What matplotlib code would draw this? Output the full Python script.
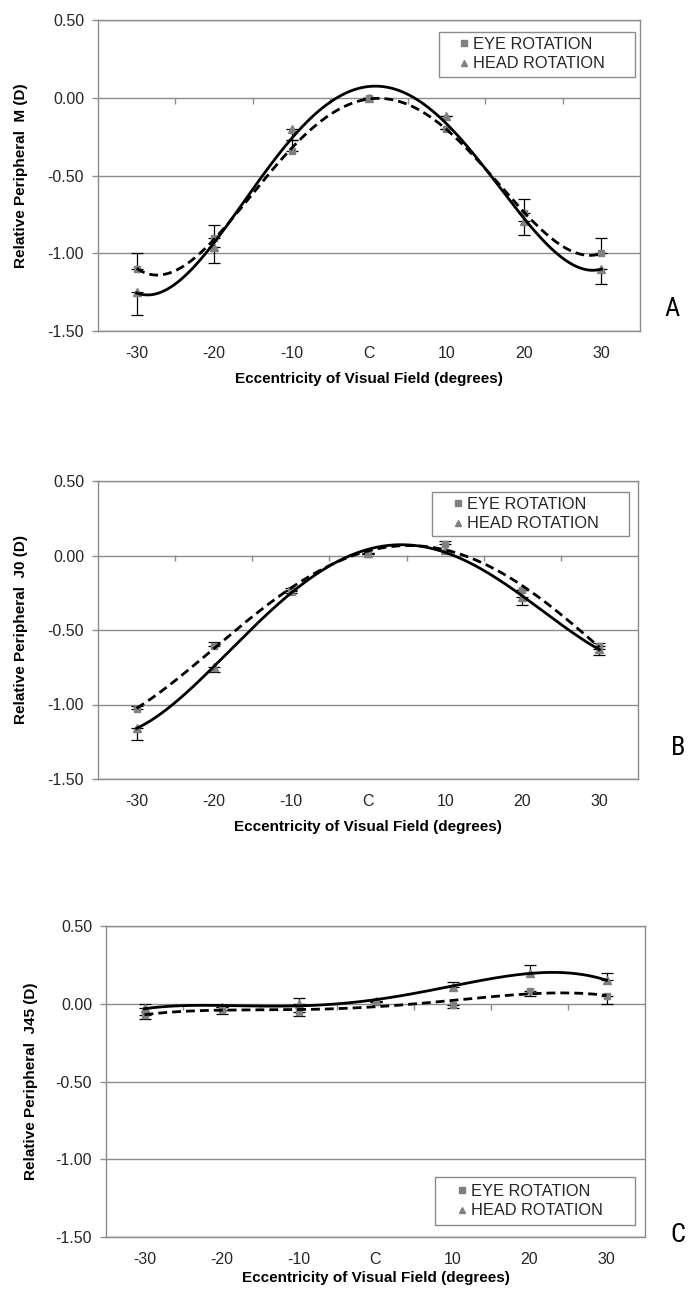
import numpy as np
import matplotlib
matplotlib.use('Agg')
import matplotlib.pyplot as plt
from matplotlib import font_manager as fm
from matplotlib.lines import Line2D
from matplotlib.patches import Rectangle

# ---------------- data ----------------
categories = ['-30', '-20', '-10', 'C', '10', '20', '30']

# Panel A: relative peripheral M (D)
m_eye = [-1.10, -0.90, -0.34, 0.00, -0.20, -0.74, -1.00]
m_eye_err = [0.10, 0.08, 0.07, 0.00, 0.00, 0.09, 0.10]
m_head = [-1.25, -0.96, -0.20, 0.00, -0.12, -0.79, -1.10]
m_head_err = [0.15, 0.10, 0.07, 0.00, 0.00, 0.09, 0.10]

# Panel B: relative peripheral J0 (D)
j0_eye = [-1.03, -0.61, -0.23, 0.01, 0.08, -0.23, -0.61]
j0_eye_err = [0.02, 0.03, 0.01, 0.00, 0.02, 0.00, 0.02]
j0_head = [-1.16, -0.75, -0.24, 0.02, 0.04, -0.28, -0.63]
j0_head_err = [0.08, 0.03, 0.01, 0.00, 0.00, 0.05, 0.04]

# Panel C: relative peripheral J45 (D)
j45_eye = [-0.07, -0.04, -0.05, 0.01, -0.01, 0.08, 0.05]
j45_eye_err = [0.03, 0.025, 0.03, 0.00, 0.02, 0.03, 0.05]
j45_head = [-0.03, -0.02, 0.00, 0.02, 0.11, 0.20, 0.15]
j45_head_err = [0.03, 0.00, 0.04, 0.00, 0.03, 0.05, 0.05]

series_labels = ['EYE ROTATION', 'HEAD ROTATION']
ylabels = ['Relative Peripheral  M (D)', 'Relative Peripheral  J0 (D)',
           'Relative Peripheral  J45 (D)']
xlabel = 'Eccentricity of Visual Field (degrees)'
panel_letters = ['A', 'B', 'C']


# ---------------- fonts ----------------
def pick(names):
    for n in names:
        try:
            fm.findfont(fm.FontProperties(family=n), fallback_to_default=False)
            return n
        except Exception:
            pass
    return 'DejaVu Sans'


SANS = pick(['Liberation Sans', 'Arial', 'DejaVu Sans'])
NARROW = pick(['Liberation Sans Narrow', 'Roboto Condensed', 'DejaVu Sans'])
plt.rcParams['font.family'] = [SANS, 'DejaVu Sans']

GRAY = '#8c8c8c'
MARK = '#808080'
TXT = '#262626'
FS = 11.5
LFS = 11.8
BFS = 11.0

W, H = 690, 1292
fig = plt.figure(figsize=(W / 100, H / 100), dpi=100)
fig.patch.set_facecolor('white')


def px_axes(left, right, top, bottom):
    return fig.add_axes([left / W, 1 - bottom / H, (right - left) / W, (bottom - top) / H])


# layout in figure pixels: axes box (l, r, t, b); legend frame (l, r, t, b);
# legend marker centre x and vertical centre of the two entries
panels = [
    dict(box=(98, 640, 20, 331), eye=m_eye, eye_err=m_eye_err, head=m_head, head_err=m_head_err,
         eye_up=True, order=4, leg_box=(439, 635, 32, 77), leg_mx=464, leg_cy=54,
         letter_xy=(672, 309), ylab_x=-0.142, xlab_y=-0.155),
    dict(box=(98, 638, 481, 779), eye=j0_eye, eye_err=j0_eye_err, head=j0_head, head_err=j0_head_err,
         eye_up=True, order=4, leg_box=(432, 629, 492, 536), leg_mx=458, leg_cy=514,
         letter_xy=(678, 748), ylab_x=-0.143, xlab_y=-0.162),
    dict(box=(106, 645, 926, 1237), eye=j45_eye, eye_err=j45_eye_err, head=j45_head, head_err=j45_head_err,
         eye_up=False, order=4, leg_box=(435, 635, 1177, 1225), leg_mx=462, leg_cy=1201,
         letter_xy=(678, 1235), ylab_x=-0.139, xlab_y=-0.132),
]

x = np.arange(len(categories))
xs = np.linspace(x[0], x[-1], 400)
ymin, ymax = -1.5, 0.5

for i, p in enumerate(panels):
    l, r, t, b = p['box']
    ax = px_axes(l, r, t, b)
    ax.set_xlim(-0.5, len(categories) - 0.5)
    ax.set_ylim(ymin, ymax)

    def fx(px):
        return (px - l) / (r - l)

    def fy(py):
        return (b - py) / (b - t)

    eye = np.array(p['eye'])
    head = np.array(p['head'])
    ee = np.array(p['eye_err'])
    he = np.array(p['head_err'])
    z = np.zeros_like(ee)
    if p['eye_up']:
        eye_yerr = [z, ee]
        head_yerr = [he, z]
    else:
        eye_yerr = [ee, z]
        head_yerr = [z, he]

    ax.errorbar(x, eye, yerr=eye_yerr, fmt='none', ecolor='black', elinewidth=0.9,
                capsize=4, capthick=0.9, zorder=3)
    ax.errorbar(x, head, yerr=head_yerr, fmt='none', ecolor='black', elinewidth=0.9,
                capsize=4, capthick=0.9, zorder=3)
    ax.plot(x, eye, ls='none', marker='s', ms=4.5, color=MARK, mec=MARK, zorder=4)
    ax.plot(x, head, ls='none', marker='^', ms=6, color=MARK, mec=MARK, zorder=4)

    # polynomial trendlines (as the original spreadsheet chart)
    ce = np.polyfit(x, eye, p['order'])
    ch = np.polyfit(x, head, p['order'])
    ax.plot(xs, np.polyval(ce, xs), color='black', lw=2.0, ls=(0, (3.2, 1.8)), zorder=5)
    ax.plot(xs, np.polyval(ch, xs), color='black', lw=2.0, ls='-', zorder=5)

    # axes styling
    for s in ax.spines.values():
        s.set_color(GRAY)
        s.set_linewidth(1.0)
    ax.set_yticks(np.arange(ymin, ymax + 0.01, 0.5))
    ax.set_yticklabels(['%.2f' % v for v in np.arange(ymin, ymax + 0.01, 0.5)])
    ax.yaxis.grid(True, color=GRAY, lw=1.0)
    ax.set_axisbelow(True)
    ax.tick_params(axis='y', direction='out', length=4, width=1, color=GRAY,
                   labelsize=FS, labelcolor=TXT, pad=6)
    ax.set_xticks(x)
    ax.set_xticklabels(categories)
    ax.tick_params(axis='x', length=0, labelsize=FS, labelcolor=TXT, pad=11)

    # category boundary ticks on the zero line
    loc0 = (0 - ymin) / (ymax - ymin)
    sec = ax.secondary_xaxis(loc0)
    sec.set_xticks(np.arange(0.5, len(categories) - 1, 1.0))
    sec.tick_params(direction='in', length=4, width=1, color=GRAY,
                    labeltop=False, labelbottom=False)
    for s in sec.spines.values():
        s.set_visible(False)

    ax.set_ylabel(ylabels[i], fontsize=BFS, fontweight='bold', color='black')
    ax.yaxis.set_label_coords(p['ylab_x'], 0.5)
    ax.yaxis.label.set_va('center')
    ax.set_xlabel(xlabel, fontsize=BFS, fontweight='bold', color='black')
    ax.xaxis.set_label_coords(0.5, p['xlab_y'])
    ax.xaxis.label.set_va('center')

    # legend: frame drawn as a rectangle, entries without frame
    bl, br, bt, bb = p['leg_box']
    ax.add_patch(Rectangle((fx(bl), fy(bb)), fx(br) - fx(bl), fy(bt) - fy(bb),
                           transform=ax.transAxes, facecolor='white', edgecolor=GRAY,
                           lw=1.0, zorder=6, clip_on=False))
    hl = 0.8
    handle_left_px = p['leg_mx'] - hl * LFS * 100 / 72 / 2
    handles = [Line2D([], [], ls='none', marker='s', ms=4, color=MARK),
               Line2D([], [], ls='none', marker='^', ms=5, color=MARK)]
    leg = ax.legend(handles, series_labels, loc='center left',
                    bbox_to_anchor=(fx(handle_left_px), fy(p['leg_cy'])),
                    fontsize=LFS, frameon=False, handlelength=hl, handletextpad=0.15,
                    borderpad=0, labelspacing=0.3, borderaxespad=0)
    leg.set_zorder(7)
    for tt in leg.get_texts():
        tt.set_color(TXT)

    lx, ly = p['letter_xy']
    fig.text(lx / W, 1 - ly / H, panel_letters[i], ha='center', va='center',
             color='black',
             fontproperties=fm.FontProperties(family=NARROW, stretch='condensed', size=19))

fig.savefig('out.png', dpi=100, facecolor='white')
